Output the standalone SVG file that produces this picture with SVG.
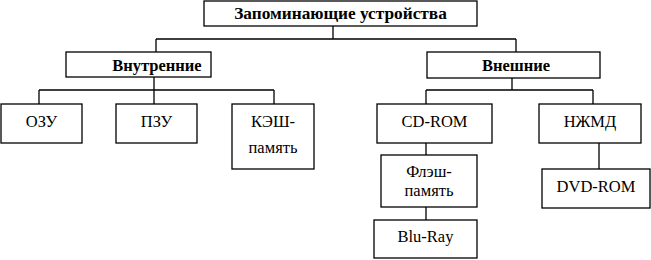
<svg xmlns="http://www.w3.org/2000/svg" width="651" height="260" viewBox="0 0 651 260">
<style>
.n rect{fill:#fff;stroke:#000;stroke-width:1.3}
.c path{fill:none;stroke:#000;stroke-width:1.3}
text{font-family:"Liberation Serif","Times New Roman","DejaVu Serif",serif;font-size:16.5px;text-anchor:middle;fill:#000}
.b{font-weight:bold;font-size:16.5px}
.t{font-size:17.3px}
</style>
<g class="c">
<path d="M333 26V39M156 39H516M156 39V52M516 39V52"/>
<path d="M154 77V90M39 90H274M39 90V104M154 90V104M274 90V104"/>
<path d="M512 78V90M426 90H593M426 90V104M593 90V104"/>
<path d="M426 143V155M426 207V220M599 143V169"/>
</g>
<g class="n">
<g id="root"><rect x="204" y="1" width="273" height="25"/><text class="b t" x="340.5" y="19">Запоминающие устройства</text></g>
<g id="vnutr"><rect x="66" y="52" width="145" height="25"/><text class="b" x="157" y="71">Внутренние</text></g>
<g id="vnesh"><rect x="427" y="52" width="173" height="26"/><text class="b" x="516" y="71">Внешние</text></g>
<g id="ozu"><rect x="1" y="104" width="81" height="39"/><text x="41.5" y="127">ОЗУ</text></g>
<g id="pzu"><rect x="116" y="104" width="81" height="39"/><text x="156.5" y="127">ПЗУ</text></g>
<g id="kesh"><rect x="232" y="104" width="82" height="65"/><text x="273" y="127">КЭШ-</text><text x="273" y="153">память</text></g>
<g id="cdrom"><rect x="377" y="104" width="115" height="39"/><text x="434.5" y="127">CD-ROM</text></g>
<g id="nzhmd"><rect x="539" y="104" width="102" height="39"/><text x="590" y="127">НЖМД</text></g>
<g id="flash"><rect x="381" y="155" width="96" height="52"/><text x="429" y="177">Флэш-</text><text x="429" y="196">память</text></g>
<g id="bluray"><rect x="374" y="220" width="103" height="38"/><text x="425.5" y="242">Blu-Ray</text></g>
<g id="dvdrom"><rect x="542" y="169" width="108" height="39"/><text x="596" y="192">DVD-ROM</text></g>
</g>
</svg>
